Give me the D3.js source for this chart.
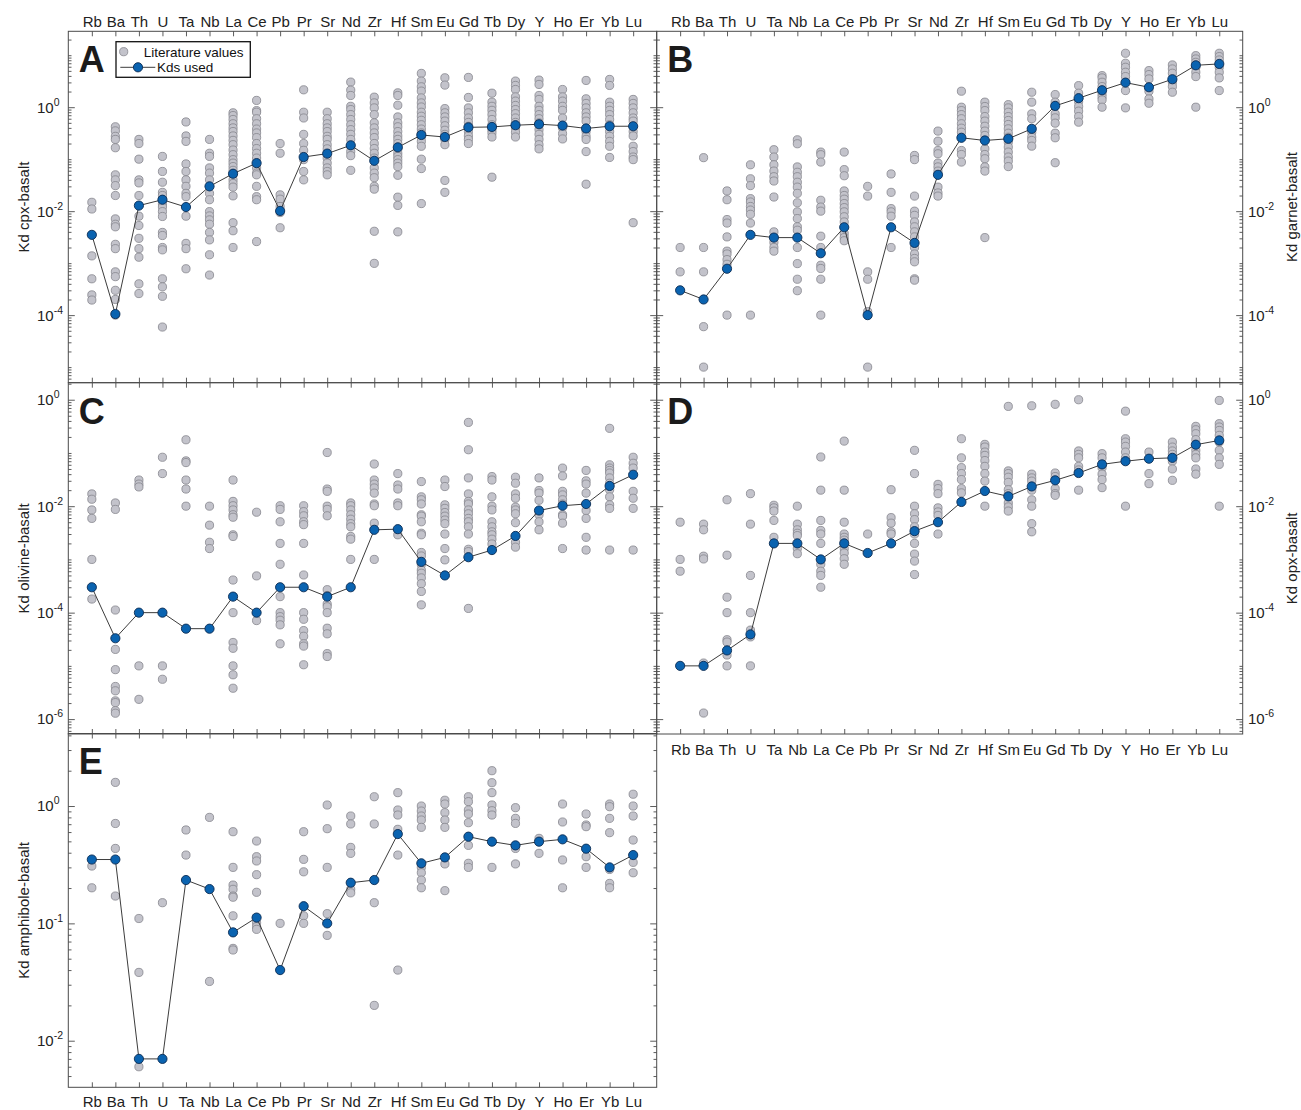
<!DOCTYPE html>
<html>
<head>
<meta charset="utf-8">
<script src="https://cdn.jsdelivr.net/npm/d3@7/dist/d3.min.js"></script>
<style>
  body { margin: 0; background: #fff; }
  svg { display: block; font-family: "Liberation Sans", Arial, Helvetica, sans-serif; }
</style>
</head>
<body>
<svg id="chart" width="1301" height="1110"></svg>
<script>
// element order along the x axis
var elements = ["Rb", "Ba", "Th", "U", "Ta", "Nb", "La", "Ce", "Pb", "Pr", "Sr", "Nd",
  "Zr", "Hf", "Sm", "Eu", "Gd", "Tb", "Dy", "Y", "Ho", "Er", "Yb", "Lu"];

// tick labels (decades) per panel
var ticksAB = [1, 1e-2, 1e-4];
var ticksCD = [1, 1e-2, 1e-4, 1e-6];
var ticksE = [1, 1e-1, 1e-2];

// ---- A: cpx ----
var cpxUsed = [0.0035, 0.000105, 0.0128, 0.0166, 0.012, 0.03, 0.0525, 0.084, 0.0101, 0.11, 0.128, 0.185,
  0.093, 0.169, 0.292, 0.267, 0.41, 0.417, 0.45, 0.47, 0.443, 0.39, 0.43, 0.43];
var cpxLit = [
  [0.0148, 0.011, 0.00138, 0.0005, 0.000245, 0.000195],
  [0.42, 0.35, 0.275, 0.24, 0.166, 0.05, 0.04, 0.031, 0.02, 0.0071, 0.0056, 0.005, 0.0023, 0.0019, 0.00068, 0.00055, 0.0003, 0.0002, 0.0001],
  [0.24, 0.2, 0.1, 0.04, 0.035, 0.02, 0.008, 0.0053, 0.003, 0.0019, 0.0013, 0.0004, 0.00026],
  [0.113, 0.058, 0.036, 0.023, 0.02, 0.0166, 0.0138, 0.012, 0.0098, 0.0079, 0.0039, 0.0034, 0.002, 0.0018, 0.0005, 0.00035, 0.00023, 0.000059],
  [0.52, 0.28, 0.22, 0.081, 0.058, 0.04, 0.03, 0.022, 0.019, 0.008, 0.0024, 0.0019, 0.00078],
  [0.24, 0.13, 0.113, 0.068, 0.054, 0.04, 0.022, 0.0166, 0.0098, 0.0081, 0.0068, 0.0056, 0.0039, 0.0028, 0.00145, 0.00059],
  [0.78, 0.69, 0.58, 0.48, 0.40, 0.34, 0.28, 0.23, 0.19, 0.15, 0.122, 0.098, 0.084, 0.072, 0.061, 0.05, 0.04, 0.034, 0.029, 0.0197, 0.006, 0.0042, 0.002],
  [1.35, 0.86, 0.8, 0.6, 0.48, 0.38, 0.32, 0.26, 0.2, 0.16, 0.13, 0.105, 0.068, 0.054, 0.05, 0.03, 0.019, 0.0166, 0.0026],
  [0.2, 0.13, 0.0206, 0.017, 0.0123, 0.0094, 0.0048],
  [2.16, 0.8, 0.62, 0.3, 0.2, 0.148, 0.098, 0.058, 0.04],
  [0.8, 0.6, 0.48, 0.40, 0.34, 0.275, 0.24, 0.19, 0.158, 0.105, 0.084, 0.068, 0.058, 0.05],
  [3.04, 2.13, 1.68, 1.04, 0.9, 0.72, 0.58, 0.46, 0.37, 0.3, 0.24, 0.177, 0.14, 0.117, 0.061],
  [1.56, 1.21, 0.97, 0.72, 0.5, 0.4, 0.32, 0.26, 0.2, 0.16, 0.13, 0.105, 0.068, 0.054, 0.044, 0.03, 0.0265, 0.0041, 0.00099],
  [1.89, 1.68, 1.09, 0.65, 0.5, 0.42, 0.34, 0.28, 0.24, 0.2, 0.158, 0.13, 0.113, 0.098, 0.084, 0.072, 0.049, 0.0186, 0.0129, 0.004],
  [4.47, 3.18, 2.47, 2.04, 1.51, 1.21, 1.01, 0.8, 0.67, 0.56, 0.46, 0.38, 0.32, 0.267, 0.22, 0.177, 0.1, 0.066, 0.014],
  [3.68, 2.66, 0.94, 0.78, 0.65, 0.54, 0.44, 0.36, 0.3, 0.24, 0.19, 0.039, 0.023],
  [3.74, 1.54, 0.97, 0.78, 0.62, 0.51, 0.43, 0.34, 0.28, 0.24, 0.2],
  [1.86, 1.25, 1.04, 0.87, 0.72, 0.58, 0.46, 0.37, 0.32, 0.267, 0.045],
  [3.18, 2.62, 2.19, 1.58, 1.31, 1.08, 0.9, 0.75, 0.62, 0.51, 0.4, 0.33, 0.267],
  [3.32, 2.74, 1.68, 1.41, 1.04, 0.87, 0.72, 0.6, 0.5, 0.37, 0.3, 0.24, 0.19, 0.158],
  [2.19, 1.58, 1.31, 1.04, 0.87, 0.62, 0.4, 0.31, 0.245],
  [3.27, 1.45, 1.18, 0.97, 0.78, 0.65, 0.54, 0.34, 0.275, 0.24, 0.14, 0.033],
  [3.42, 2.62, 1.25, 1.04, 0.87, 0.72, 0.58, 0.46, 0.34, 0.275, 0.22, 0.177, 0.108],
  [1.41, 1.18, 0.97, 0.78, 0.62, 0.54, 0.34, 0.28, 0.177, 0.14, 0.11, 0.098, 0.006]
];

// ---- B: garnet ----
var garnetUsed = [0.0003, 0.0002, 0.00078, 0.0035, 0.0031, 0.0031, 0.00155, 0.0049, 0.0001, 0.0049, 0.00245, 0.05,
  0.258, 0.229, 0.247, 0.384, 1.06, 1.49, 2.12, 2.97, 2.42, 3.45, 6.4, 6.8];
var garnetLit = [
  [0.002, 0.00068],
  [0.107, 0.002, 0.00068, 0.00006, 0.00001],
  [0.0245, 0.0166, 0.0069, 0.0059, 0.0032, 0.0017, 0.0015, 0.00117, 0.00095, 0.0001],
  [0.078, 0.042, 0.031, 0.0174, 0.015, 0.0123, 0.0105, 0.0087, 0.0059, 0.0001],
  [0.152, 0.11, 0.078, 0.059, 0.046, 0.038, 0.0187, 0.004, 0.0025, 0.002, 0.0017],
  [0.236, 0.198, 0.071, 0.056, 0.046, 0.036, 0.029, 0.022, 0.0145, 0.0097, 0.0072, 0.005, 0.0043, 0.002, 0.00098, 0.00049, 0.000295],
  [0.137, 0.122, 0.088, 0.0162, 0.012, 0.01, 0.0033, 0.002, 0.00091, 0.00079, 0.00049, 0.0001],
  [0.137, 0.063, 0.048, 0.0245, 0.02, 0.017, 0.014, 0.0117, 0.0097, 0.0078, 0.0062, 0.0037, 0.0031, 0.0027],
  [0.03, 0.0195, 0.00068, 0.00049, 0.000117, 0.00001],
  [0.052, 0.023, 0.0112, 0.0097, 0.008, 0.002],
  [0.118, 0.098, 0.0195, 0.01, 0.0083, 0.0062, 0.005, 0.004, 0.0032, 0.002, 0.0015, 0.00123, 0.00106, 0.0005, 0.00047],
  [0.347, 0.222, 0.147, 0.127, 0.084, 0.071, 0.059, 0.029, 0.0224, 0.0195],
  [2.03, 1.0, 0.86, 0.72, 0.6, 0.48, 0.395, 0.33, 0.147, 0.123, 0.088],
  [1.25, 1.03, 0.86, 0.66, 0.54, 0.43, 0.347, 0.286, 0.158, 0.123, 0.102, 0.071, 0.059, 0.0031],
  [1.12, 0.97, 0.8, 0.66, 0.555, 0.465, 0.384, 0.316, 0.265, 0.213, 0.171, 0.137, 0.11, 0.092, 0.072],
  [1.94, 1.25, 0.745, 0.6, 0.33, 0.265, 0.229, 0.178],
  [1.75, 1.25, 0.745, 0.624, 0.493, 0.316, 0.258, 0.0855],
  [2.6, 1.86, 1.28, 1.03, 0.84, 0.66, 0.515],
  [4.05, 3.66, 3.02, 2.49, 1.8, 1.56, 1.38, 1.0],
  [10.9, 7.0, 5.86, 4.7, 3.88, 2.09, 0.97],
  [5.06, 4.24, 3.5, 2.03, 1.44, 1.19],
  [6.5, 5.44, 4.5, 3.02, 2.49, 1.94],
  [9.8, 8.47, 7.3, 5.86, 4.7, 3.88, 1.0],
  [10.9, 9.4, 8.1, 5.86, 4.7, 3.66, 2.09]
];

// ---- C: olivine ----
var olivineUsed = [0.0003, 3.3e-5, 1e-4, 1e-4, 5e-5, 5e-5, 0.0002, 1e-4, 0.0003, 0.0003, 0.0002, 0.0003,
  0.0036, 0.0037, 0.0009, 0.0005, 0.0011, 0.0015, 0.00276, 0.0083, 0.0102, 0.011, 0.024, 0.039];
var olivineLit = [
  [0.017, 0.0135, 0.0085, 0.0059, 0.001, 0.00018],
  [0.0115, 0.0087, 0.000112, 2.04e-5, 8.5e-6, 4.1e-6, 3.4e-6, 2.2e-6, 2.04e-6, 1.44e-6, 1.29e-6],
  [0.031, 0.026, 0.023, 1e-5, 2.35e-6],
  [0.083, 0.041, 1e-5, 5.6e-6],
  [0.177, 0.071, 0.066, 0.031, 0.021, 0.01],
  [0.01, 0.0044, 0.0021, 0.0016],
  [0.031, 0.0123, 0.0102, 0.0085, 0.0069, 0.0062, 0.0029, 0.0027, 0.00041, 0.0001, 2.75e-5, 2.14e-5, 1e-5, 6.8e-6, 3.8e-6],
  [0.0077, 0.00049, 7.1e-5],
  [0.0102, 0.0087, 0.0051, 0.002, 0.00081, 0.0002, 0.0001, 8.4e-5, 7.2e-5, 5.9e-5, 2.6e-5],
  [0.0102, 0.0079, 0.0066, 0.0051, 0.0045, 0.002, 0.00051, 0.0001, 7.5e-5, 4.6e-5, 3.6e-5, 2.6e-5, 2.35e-5, 1.05e-5],
  [0.102, 0.021, 0.019, 0.01, 0.0087, 0.0066, 0.00027, 0.00021, 0.000145, 0.000129, 1e-4, 5.1e-5, 4e-5, 1.7e-5, 1.5e-5],
  [0.0115, 0.0102, 0.0085, 0.0069, 0.0057, 0.0047, 0.0041, 0.0027, 0.0024, 0.001],
  [0.062, 0.031, 0.026, 0.022, 0.0176, 0.011, 0.0102, 0.0048, 0.001],
  [0.041, 0.025, 0.021, 0.0115, 0.0102, 0.0029],
  [0.029, 0.015, 0.0132, 0.011, 0.0069, 0.0065, 0.0051, 0.0031, 0.0029, 0.00135, 0.00116, 0.0008, 0.00063, 0.00055, 0.00045, 0.00035, 0.00025, 0.00014],
  [0.031, 0.0234, 0.0106, 0.0091, 0.0076, 0.0065, 0.0055, 0.0047, 0.003, 0.0016, 0.00098],
  [0.375, 0.115, 0.034, 0.017, 0.0123, 0.011, 0.0085, 0.0072, 0.0059, 0.0051, 0.0041, 0.003, 0.00155, 0.0014, 0.00012],
  [0.036, 0.031, 0.015, 0.01, 0.0085, 0.0051, 0.0041, 0.0033, 0.0029, 0.0024, 0.00195],
  [0.035, 0.027, 0.017, 0.0141, 0.0096, 0.0085, 0.0072, 0.0049, 0.0021, 0.0017],
  [0.034, 0.0197, 0.0176, 0.0129, 0.0069, 0.0051, 0.0036],
  [0.052, 0.037, 0.019, 0.0163, 0.0132, 0.011, 0.0069, 0.0065, 0.0048, 0.0016],
  [0.047, 0.03, 0.026, 0.0176, 0.0083, 0.0059, 0.0026, 0.0015],
  [0.29, 0.06, 0.052, 0.047, 0.042, 0.034, 0.027, 0.0204, 0.015, 0.0106, 0.0091, 0.0015],
  [0.083, 0.064, 0.052, 0.019, 0.0141, 0.0091, 0.0015]
];

// ---- D: opx ----
var opxUsed = [1e-5, 1e-5, 1.95e-5, 3.9e-5, 0.002, 0.002, 0.001, 0.002, 0.00132, 0.002, 0.0034, 0.005,
  0.012, 0.0193, 0.0153, 0.0235, 0.0306, 0.042, 0.061, 0.07, 0.078, 0.081, 0.143, 0.172];
var opxLit = [
  [0.005, 0.001, 0.0006],
  [0.0046, 0.0036, 0.00115, 0.00102, 1.13e-5, 1.3e-6],
  [0.0132, 0.0012, 0.000195, 1e-4, 3.1e-5, 2.8e-5, 1.6e-5, 1e-5],
  [0.0172, 0.0046, 0.0005, 1e-4, 4.7e-5, 3.5e-5, 1e-5],
  [0.0104, 0.0093, 0.0081, 0.0054, 0.0026],
  [0.01, 0.0046, 0.0036, 0.0031, 0.0028, 0.0016, 0.00128],
  [0.084, 0.02, 0.0054, 0.0035, 0.003, 0.002, 0.00081, 0.0006, 0.0005, 0.0003],
  [0.167, 0.02, 0.005, 0.003, 0.0026, 0.0023, 0.0016, 0.00132, 0.00103, 0.00081],
  [0.003],
  [0.0204, 0.0061, 0.0048, 0.0033, 0.003],
  [0.112, 0.041, 0.01, 0.0072, 0.0056, 0.0041, 0.003, 0.002, 0.00126, 0.00093, 0.00052],
  [0.0257, 0.0214, 0.0172, 0.0093, 0.0078, 0.0067, 0.003],
  [0.185, 0.081, 0.053, 0.041, 0.0316, 0.0214, 0.0178],
  [0.145, 0.129, 0.104, 0.09, 0.072, 0.056, 0.041, 0.0296, 0.01],
  [0.75, 0.046, 0.041, 0.035, 0.028, 0.0204, 0.0172, 0.0115, 0.0097, 0.0081],
  [0.77, 0.04, 0.034, 0.0296, 0.02, 0.0132, 0.01, 0.0047, 0.0033],
  [0.82, 0.042, 0.036, 0.0214, 0.0172, 0.016],
  [1.0, 0.109, 0.094, 0.081, 0.056, 0.048, 0.02],
  [0.097, 0.081, 0.053, 0.04, 0.0316, 0.0223],
  [0.61, 0.185, 0.16, 0.133, 0.104, 0.081, 0.01],
  [0.104, 0.041, 0.0265],
  [0.16, 0.129, 0.109, 0.094, 0.07, 0.05, 0.0306],
  [0.316, 0.273, 0.23, 0.178, 0.112, 0.094, 0.081, 0.05, 0.04],
  [0.97, 0.355, 0.307, 0.265, 0.214, 0.16, 0.112, 0.081, 0.061, 0.01]
];

// ---- E: amphibole ----
var amphUsed = [0.35, 0.35, 0.007, 0.007, 0.234, 0.196, 0.0838, 0.112, 0.04, 0.14, 0.1, 0.222,
  0.234, 0.577, 0.325, 0.365, 0.548, 0.497, 0.462, 0.497, 0.52, 0.433, 0.3, 0.382];
var amphLit = [
  [0.308, 0.201],
  [1.59, 0.71, 0.435, 0.171],
  [0.11, 0.0382, 0.006],
  [0.15],
  [0.625, 0.382],
  [0.8, 0.032],
  [0.604, 0.3, 0.212, 0.195, 0.171, 0.167, 0.116, 0.0612, 0.0593],
  [0.503, 0.37, 0.34, 0.26, 0.184, 0.101, 0.0937, 0.0889],
  [0.1],
  [0.604, 0.351, 0.275, 0.116, 0.1],
  [1.02, 0.641, 0.3, 0.121, 0.079],
  [0.822, 0.703, 0.444, 0.395, 0.195, 0.182],
  [1.2, 0.703, 0.15, 0.02],
  [1.3, 0.925, 0.838, 0.633, 0.382, 0.04],
  [1.0, 0.906, 0.822, 0.76, 0.658, 0.3, 0.27, 0.234, 0.201],
  [1.12, 1.04, 0.878, 0.76, 0.658, 0.321, 0.19],
  [1.2, 1.09, 0.925, 0.855, 0.721, 0.462, 0.325, 0.3],
  [2.0, 1.58, 1.3, 1.02, 0.912, 0.838, 0.3],
  [0.968, 0.785, 0.711, 0.435, 0.321],
  [0.53, 0.395],
  [1.04, 0.731, 0.347, 0.201],
  [0.855, 0.689, 0.667, 0.37, 0.3],
  [1.04, 0.987, 0.785, 0.593, 0.288, 0.219, 0.201],
  [1.26, 1.0, 0.822, 0.513, 0.331, 0.27]
];

var axisCol = "#4a4a4a";
var greyFill = "#c3c3cb", greyStroke = "#85858d";
var blueFill = "#0a63b0", blueStroke = "#0b2b52";

var svg = d3.select("#chart");

var panels = [
  { letter: "A", x0: 68.3, x1: 656.7, y0: 31.3, y1: 382.7, lo: -5.3, hi: 1.46, ticks: ticksAB,
    used: cpxUsed, lit: cpxLit, side: "left", xLab: "top", labPad: 4.7, title: "Kd cpx-basalt", legend: true },
  { letter: "B", x0: 656.7, x1: 1242.7, y0: 31.3, y1: 382.7, lo: -5.3, hi: 1.46, ticks: ticksAB,
    used: garnetUsed, lit: garnetLit, side: "right", xLab: "top", labPad: 4.7, title: "Kd garnet-basalt" },
  { letter: "C", x0: 68.3, x1: 656.7, y0: 382.7, y1: 734, lo: -6.28, hi: 0.32, ticks: ticksCD,
    used: olivineUsed, lit: olivineLit, side: "left", xLab: null, title: "Kd olivine-basalt" },
  { letter: "D", x0: 656.7, x1: 1242.7, y0: 382.7, y1: 734, lo: -6.28, hi: 0.32, ticks: ticksCD,
    used: opxUsed, lit: opxLit, side: "right", xLab: "bottom", labPad: 10.5, title: "Kd opx-basalt" },
  { letter: "E", x0: 68.3, x1: 656.7, y0: 733.5, y1: 1087.3, lo: -2.397, hi: 0.618, ticks: ticksE,
    used: amphUsed, lit: amphLit, side: "left", xLab: "bottom", labPad: 9, title: "Kd amphibole-basalt" }
];

function isMajor(v, ticks) {
  return ticks.some(function (t) { return Math.abs(Math.log10(v) - Math.log10(t)) < 1e-6; });
}

function drawPanel(p) {
  var x = d3.scaleLinear().domain([0, elements.length + 1]).range([p.x0, p.x1]);
  var y = d3.scaleLog().domain([Math.pow(10, p.lo), Math.pow(10, p.hi)]).range([p.y1, p.y0]);
  var g = svg.append("g").attr("class", "panel");
  var idx = d3.range(1, elements.length + 1);

  // minor y ticks (1..9 x 10^k), majors at the labelled decades
  var minor = [];
  for (var k = Math.floor(p.lo); k <= Math.ceil(p.hi); k++) {
    for (var m = 1; m < 10; m++) {
      var v = m * Math.pow(10, k);
      if (Math.log10(v) >= p.lo && Math.log10(v) <= p.hi && !isMajor(v, p.ticks)) minor.push(v);
    }
  }

  function styleAxis(sel) {
    sel.select(".domain").remove();
    sel.selectAll(".tick line").attr("stroke", axisCol).attr("stroke-width", 0.9);
  }

  // x ticks top / bottom, pointing inward
  var xTop = d3.axisTop(x).tickValues(idx).tickSizeInner(-5).tickSizeOuter(0)
    .tickPadding(p.xLab === "top" ? p.labPad : 0)
    .tickFormat(function (i) { return p.xLab === "top" ? elements[i - 1] : ""; });
  var xBot = d3.axisBottom(x).tickValues(idx).tickSizeInner(-5).tickSizeOuter(0)
    .tickPadding(p.xLab === "bottom" ? p.labPad : 0)
    .tickFormat(function (i) { return p.xLab === "bottom" ? elements[i - 1] : ""; });
  g.append("g").attr("transform", "translate(0," + p.y0 + ")").call(xTop).call(styleAxis);
  g.append("g").attr("transform", "translate(0," + p.y1 + ")").call(xBot).call(styleAxis);

  // y ticks on both sides
  [["left", p.x0], ["right", p.x1]].forEach(function (s) {
    var mk = s[0] === "left" ? d3.axisLeft : d3.axisRight;
    g.append("g").attr("transform", "translate(" + s[1] + ",0)")
      .call(mk(y).tickValues(minor).tickSizeInner(-3.2).tickSizeOuter(0).tickFormat(""))
      .call(styleAxis);
    g.append("g").attr("transform", "translate(" + s[1] + ",0)")
      .call(mk(y).tickValues(p.ticks).tickSizeInner(-6.5).tickSizeOuter(0).tickFormat(""))
      .call(styleAxis);
  });

  g.selectAll(".tick text").attr("font-family", null).attr("font-size", null)
    .style("font-size", "15px").style("fill", "#222");

  // frame
  g.append("rect").attr("x", p.x0).attr("y", p.y0)
    .attr("width", p.x1 - p.x0).attr("height", p.y1 - p.y0)
    .attr("fill", "none").attr("stroke", axisCol).attr("stroke-width", 1);

  // y tick labels 10^k
  var lx = p.side === "left" ? 37 : 1248;
  var lab = g.selectAll(".ylab").data(p.ticks).enter().append("text")
    .attr("class", "ylab")
    .attr("x", lx).attr("y", function (d) { return y(d) + 5.4; })
    .style("font-size", "15px").style("fill", "#222");
  lab.append("tspan").text("10");
  lab.append("tspan").attr("dy", -7).style("font-size", "10.5px")
    .text(function (d) { return String(Math.round(Math.log10(d))); });

  // axis title
  var tx = p.side === "left" ? 24 : 1292;
  g.append("text")
    .attr("transform", "translate(" + tx + "," + ((p.y0 + p.y1) / 2) + ") rotate(-90)")
    .attr("text-anchor", "middle").attr("dy", "0.35em")
    .style("font-size", "15px").style("fill", "#222")
    .text(p.title);

  // literature values
  var pts = [];
  p.lit.forEach(function (arr, i) {
    arr.forEach(function (v) { pts.push({ i: i + 1, v: v }); });
  });
  g.selectAll(".lit").data(pts).enter().append("circle")
    .attr("class", "lit")
    .attr("cx", function (d) { return x(d.i); })
    .attr("cy", function (d) { return y(d.v); })
    .attr("r", 4.1)
    .attr("fill", greyFill).attr("stroke", greyStroke).attr("stroke-width", 0.8);

  // Kds used
  var line = d3.line().x(function (d, i) { return x(i + 1); }).y(function (d) { return y(d); });
  g.append("path").datum(p.used).attr("d", line)
    .attr("fill", "none").attr("stroke", "#3c3c3c").attr("stroke-width", 1);
  g.selectAll(".used").data(p.used).enter().append("circle")
    .attr("class", "used")
    .attr("cx", function (d, i) { return x(i + 1); })
    .attr("cy", function (d) { return y(d); })
    .attr("r", 4.6)
    .attr("fill", blueFill).attr("stroke", blueStroke).attr("stroke-width", 0.9);

  // panel letter
  g.append("text").attr("x", p.x0 + 10.5).attr("y", p.y0 + 40.8)
    .style("font-size", "36px").style("font-weight", "bold").style("fill", "#1b1b1b")
    .text(p.letter);

  if (p.legend) {
    var lg = g.append("g");
    lg.append("rect").attr("x", 116).attr("y", 41.7).attr("width", 134.3).attr("height", 35.6)
      .attr("fill", "#fff").attr("stroke", "#111").attr("stroke-width", 1.3);
    lg.append("circle").attr("cx", 123.7).attr("cy", 51.7).attr("r", 4.1)
      .attr("fill", greyFill).attr("stroke", greyStroke).attr("stroke-width", 0.8);
    lg.append("text").attr("x", 143.7).attr("y", 56.6)
      .style("font-size", "13.5px").style("fill", "#111").text("Literature values");
    lg.append("line").attr("x1", 120.3).attr("x2", 155.3).attr("y1", 67.3).attr("y2", 67.3)
      .attr("stroke", "#3c3c3c").attr("stroke-width", 1);
    lg.append("circle").attr("cx", 138).attr("cy", 67.3).attr("r", 4.6)
      .attr("fill", blueFill).attr("stroke", blueStroke).attr("stroke-width", 0.9);
    lg.append("text").attr("x", 157).attr("y", 72.2)
      .style("font-size", "13.5px").style("fill", "#111").text("Kds used");
  }
}

panels.forEach(drawPanel);
</script>
</body>
</html>
